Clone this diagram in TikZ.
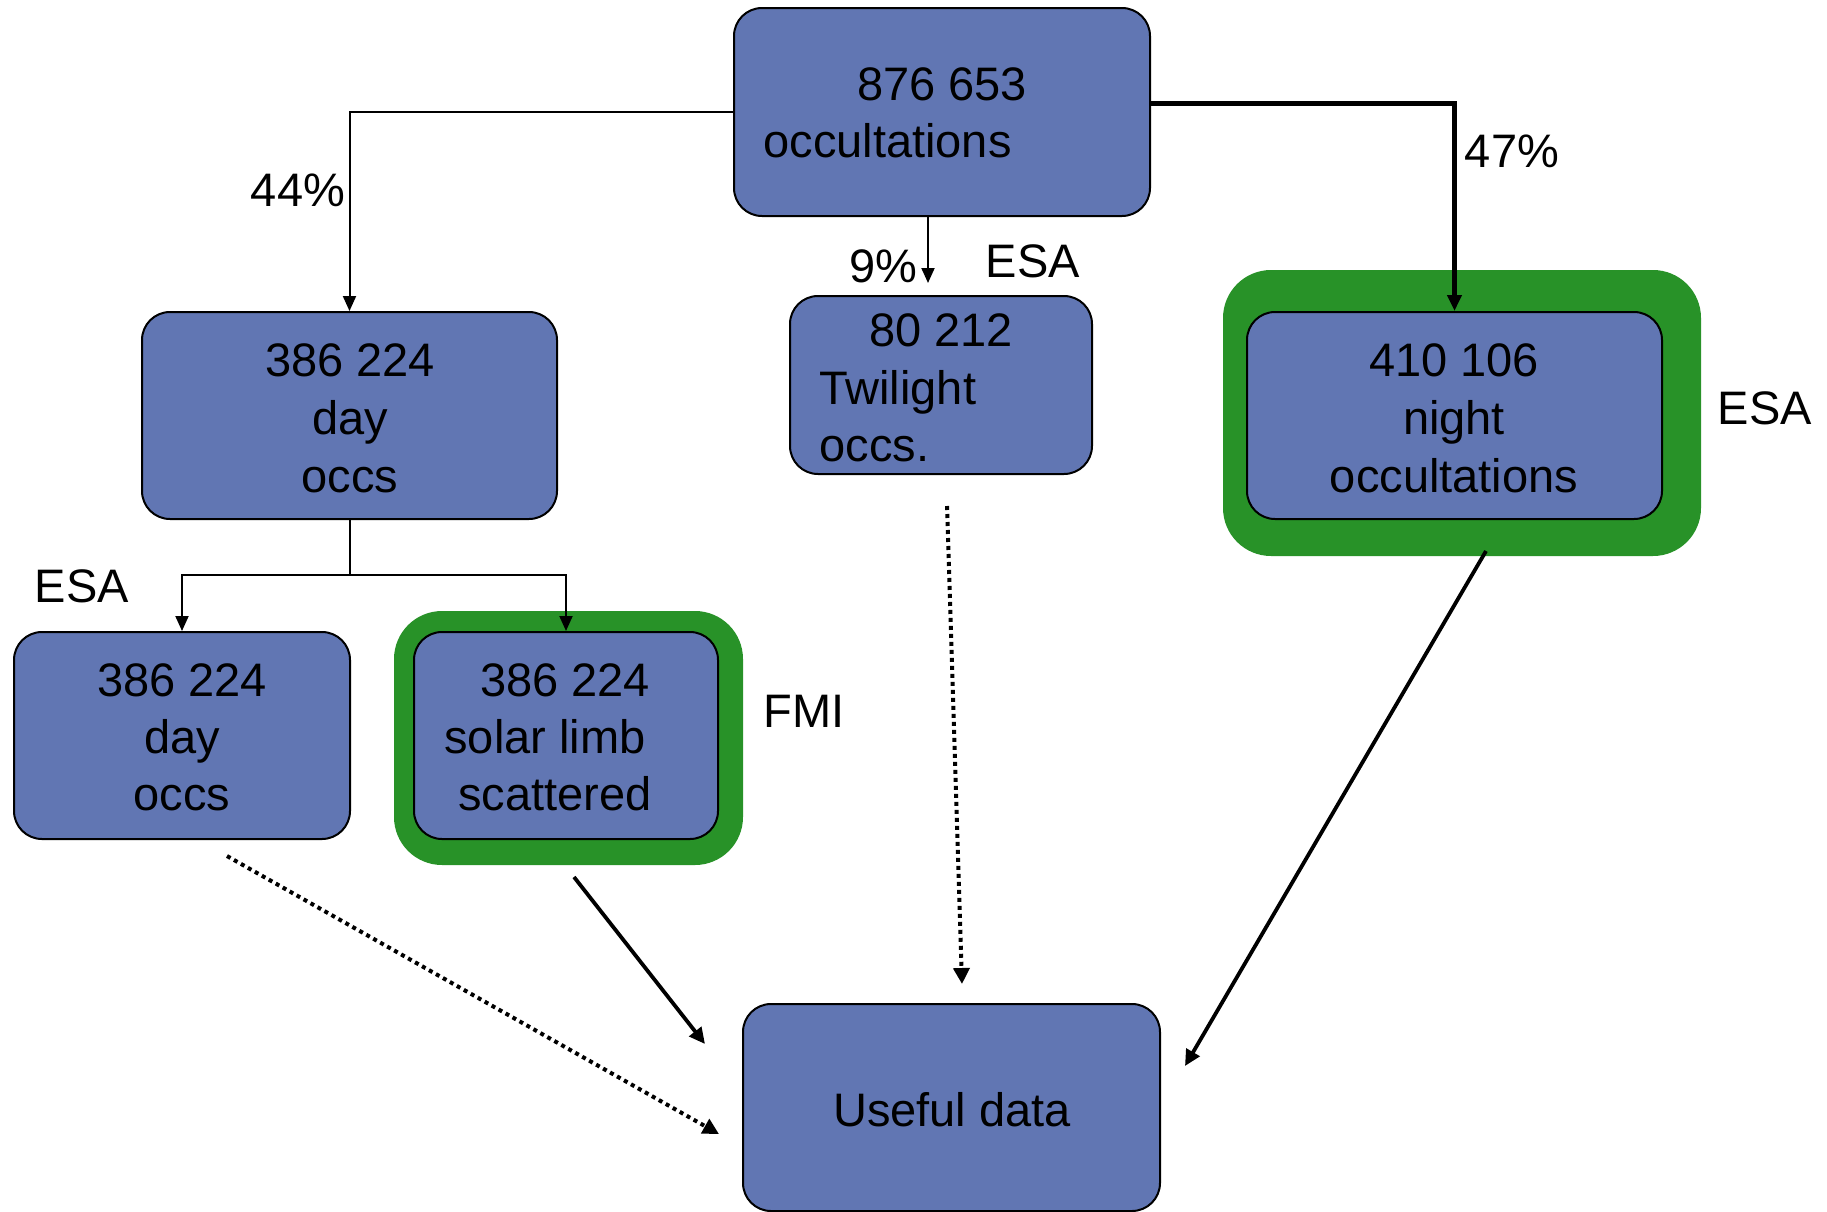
\documentclass[tikz,border=0pt]{standalone}
\usepackage{fontspec}
\setmainfont{Liberation Sans}
\usetikzlibrary{arrows.meta,calc}
\definecolor{boxblue}{RGB}{97,118,179}
\definecolor{boxgreen}{RGB}{40,146,40}
\begin{document}
\begin{tikzpicture}[x=0.5pt,y=-0.5pt,
  box/.style={draw=black,line width=1pt,fill=boxblue,rounded corners=14pt,inner sep=0pt},
  halo/.style={fill=boxgreen,rounded corners=24pt,inner sep=0pt},
  txt/.style={anchor=base,inner sep=0pt,font=\fontsize{23.5}{28}\selectfont},
  txtl/.style={txt,anchor=base west},
  conn/.style={line width=1pt,-{Triangle[length=7.5pt,width=6.5pt]}},
  thickconn/.style={line width=2.5pt,-{Triangle[length=8pt,width=7pt]}},
  solidconn/.style={line width=1.9pt,-{Triangle[length=8pt,width=7.5pt]}},
  dotconn/.style={line width=2pt,dash pattern=on 2pt off 2pt,-{Triangle[length=8pt,width=8pt]}}
]
\useasboundingbox (0,0) rectangle (1827,1211);

% boxes
\node[box,minimum width=208pt,minimum height=104pt] (top) at (942,112) {};
\node[box,minimum width=151pt,minimum height=89pt] (twi) at (941,385) {};
\node[box,minimum width=207.5pt,minimum height=103.5pt] (day) at (349.5,415.5) {};
\node[halo,minimum width=239pt,minimum height=143pt] (nighthalo) at (1462,413) {};
\node[box,minimum width=207.5pt,minimum height=103.5pt] (nightin) at (1454.5,415.5) {};
\node[box,minimum width=168pt,minimum height=103.5pt] (day2) at (182,735.5) {};
\node[halo,minimum width=174.5pt,minimum height=127pt] (solarhalo) at (568.5,738) {};
\node[box,minimum width=152pt,minimum height=103.5pt] (solarin) at (566,735.5) {};
\node[box,minimum width=208.5pt,minimum height=103.5pt] (useful) at (951.5,1107.5) {};

% texts in boxes
\node[txt] (topa) at (942,100) {876 653};
\node[txtl] (topb) at (763,157) {occultations};
\node[txt] (twia) at (941,346) {80 212};
\node[txtl] (twib) at (819,404) {Twilight};
\node[txtl] (twic) at (819,461) {occs.};
\node[txt] (daya) at (350,376) {386 224};
\node[txt] (dayb) at (350,434) {day};
\node[txt] (dayc) at (350,492) {occs};
\node[txt] (nighta) at (1454,376) {410 106};
\node[txt] (nightb) at (1454,434) {night};
\node[txt] (nightc) at (1454,492) {occultations};
\node[txt] (day2a) at (182,696) {386 224};
\node[txt] (day2b) at (182,753) {day};
\node[txt] (day2c) at (182,810) {occs};
\node[txt] (solara) at (565,696) {386 224};
\node[txt] (solarb) at (545,753) {solar limb};
\node[txt] (solarc) at (555,810) {scattered};
\node[txt] (usefult) at (952,1126) {Useful data};

% labels
\node[txt] (p44) at (298,206) {44\%};
\node[txt] (p9) at (883,282) {9\%};
\node[txt] (esatop) at (1033,277) {ESA};
\node[txt] (p47) at (1512,167) {47\%};
\node[txt] (esaright) at (1765,424) {ESA};
\node[txt] (esaleft) at (82,602) {ESA};
\node[txt] (fmi) at (804,727) {FMI};

% connectors
\draw[conn] (top.west) -| (day.north);
\coordinate (nr) at ($(top.east)+(0,-9)$);
\draw[thickconn] (nr) -| (nightin.north);
\coordinate (tw) at (928,283);
\draw[conn] (top.south -| tw) -- (tw);
\coordinate (split) at ($(day.south)+(0,55)$);
\draw[line width=1pt] (day.south) -- (split);
\draw[conn] (split) -| (day2.north);
\draw[conn] (split) -| (solarin.north);

\coordinate (tws) at (947,506);
\coordinate (twe) at (962,984);
\draw[dotconn] (tws) -- (twe);
\coordinate (d2s) at (227,856);
\coordinate (d2e) at (719,1134);
\draw[dotconn] (d2s) -- (d2e);
\coordinate (sls) at (574,877);
\coordinate (sle) at (705,1044);
\draw[solidconn] (sls) -- (sle);
\coordinate (nts) at (1486,551);
\coordinate (nte) at (1185,1066);
\draw[solidconn] (nts) -- (nte);
\end{tikzpicture}
\end{document}
